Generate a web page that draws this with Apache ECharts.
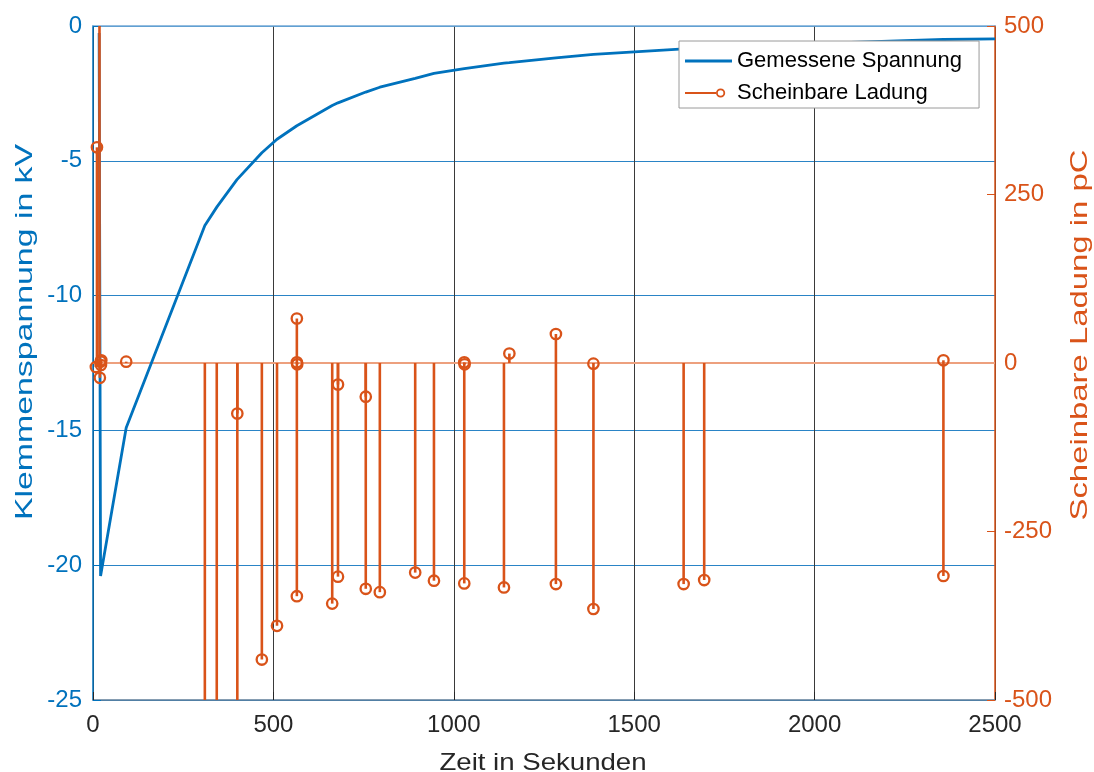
<!DOCTYPE html>
<html>
<head>
<meta charset="utf-8">
<script src="https://cdn.jsdelivr.net/npm/echarts@6/dist/echarts.min.js"></script>
<style>
html,body{margin:0;padding:0;background:#fff;width:100%;height:100%;overflow:hidden;}
#chart{width:100vw;height:100vh;}
</style>
</head>
<body>
<div id="chart"></div>
<script>
// ---- data ----
var voltageTime = [17, 21, 92, 310, 344, 399, 468, 510, 565, 663, 679, 756, 795, 893, 945, 1029, 1139, 1154, 1283, 1387, 1637, 1694, 2357, 2500];
var voltageKV   = [-0.26, -20.4, -14.9, -7.4, -6.7, -5.7, -4.7, -4.2, -3.7, -2.95, -2.85, -2.45, -2.27, -1.94, -1.76, -1.58, -1.38, -1.36, -1.18, -1.05, -0.85, -0.78, -0.5, -0.48];

var chargeTime = [8, 11, 19, 18, 21, 22, 23, 92, 310, 343, 400, 400, 468, 510, 565, 565, 566, 565, 663, 679, 679, 756, 756, 795, 893, 945, 1029, 1030, 1029, 1139, 1154, 1283, 1283, 1387, 1387, 1637, 1694, 2357, 2357];
var chargePC   = [-6, 320, -22, 640, 2, -3, 4, 2, -640, -620, -75, -650, -440, -390, 66, 1, -2, -346, -357, -32, -317, -50, -335, -340, -311, -323, 1, -2, -327, -333, 14, 43, -328, -1, -365, -328, -322, 4, -316];

var xTicks = {min: 0, max: 2500, interval: 500};
var yLeftTicks = {min: -25, max: 0, interval: 5};
var yRightTicks = {min: -500, max: 500, interval: 250};

var seriesNames = ['Gemessene Spannung', 'Scheinbare Ladung'];
var axisTitles = {x: 'Zeit in Sekunden', yLeft: 'Klemmenspannung in kV', yRight: 'Scheinbare Ladung in pC'};
// --------------

var BLUE = '#0072BD', ORANGE = '#D95319';
var FONT = "'Liberation Sans', Arial, Helvetica, sans-serif";

var voltData = voltageTime.map(function (t, i) { return [t, voltageKV[i]]; });
var chargeData = chargeTime.map(function (t, i) { return [t, chargePC[i]]; });

var chart = echarts.init(document.getElementById('chart'), null, {renderer: 'canvas'});

var lineIcon = 'path://M0,0 L0,0 M47,14 L47,14 M0,5.6 H47 V8.4 H0 Z';
var stemIcon = 'path://M0,0 L0,0 M47,14 L47,14 M0,6 H31 V8 H0 Z M31,7 a4.6,4.6 0 1,0 9.2,0 a4.6,4.6 0 1,0 -9.2,0 Z M32.8,7 a2.8,2.8 0 1,1 5.6,0 a2.8,2.8 0 1,1 -5.6,0 Z';

var option = {
  animation: false,
  backgroundColor: '#ffffff',
  textStyle: {fontFamily: FONT},
  grid: {left: 93, right: 99, top: 26, bottom: 72, containLabel: false},
  legend: {
    orient: 'vertical',
    left: 679, top: 41,
    padding: [8, 17, 3, 6],
    itemWidth: 47, itemHeight: 14, itemGap: 8,
    symbolKeepAspect: true,
    backgroundColor: '#ffffff',
    borderColor: '#9a9a9a', borderWidth: 1,
    textStyle: {fontFamily: FONT, fontSize: 22, color: '#000', lineHeight: 24},
    data: [
      {name: seriesNames[0], icon: lineIcon},
      {name: seriesNames[1], icon: stemIcon}
    ]
  },
  graphic: [{
    type: 'text', x: 543, y: 763, scaleX: 1.15,
    style: {text: axisTitles.x, fontFamily: FONT, fontSize: 24, fill: '#262626', align: 'center', verticalAlign: 'middle'}
  }, {
    type: 'text', x: 25, y: 332, rotation: Math.PI / 2, scaleX: 1.41,
    style: {text: axisTitles.yLeft, fontFamily: FONT, fontSize: 24, fill: BLUE, align: 'center', verticalAlign: 'middle'}
  }, {
    type: 'text', x: 1080, y: 335, rotation: Math.PI / 2, scaleX: 1.37,
    style: {text: axisTitles.yRight, fontFamily: FONT, fontSize: 24, fill: ORANGE, align: 'center', verticalAlign: 'middle'}
  }],
  xAxis: [{
    type: 'value', position: 'bottom',
    min: xTicks.min, max: xTicks.max, interval: xTicks.interval,
    axisLine: {show: true, onZero: false, lineStyle: {color: '#5f7d99', width: 1.5}},
    axisTick: {show: true, inside: true, length: 8, lineStyle: {color: '#262626'}},
    axisLabel: {fontFamily: FONT, fontSize: 24, color: '#262626', margin: 13,
      formatter: function (v) { return String(v); }},
    splitLine: {show: true, lineStyle: {color: '#3a3a3a', width: 1}}
  }, {
    type: 'value', position: 'top',
    min: xTicks.min, max: xTicks.max, interval: xTicks.interval,
    axisLine: {show: true, onZero: false, lineStyle: {color: '#74a9d6', width: 1.5}},
    axisTick: {show: false}, axisLabel: {show: false}, splitLine: {show: false}
  }],
  yAxis: [{
    type: 'value', position: 'left',
    min: yLeftTicks.min, max: yLeftTicks.max, interval: yLeftTicks.interval,
    axisLine: {show: true, onZero: false, lineStyle: {color: BLUE, width: 1.5}},
    axisTick: {show: true, inside: true, length: 8, lineStyle: {color: BLUE}},
    axisLabel: {fontFamily: FONT, fontSize: 24, color: BLUE, margin: 11},
    splitLine: {show: true, lineStyle: {color: '#2a84c6', width: 1}}
  }, {
    type: 'value', position: 'right',
    min: yRightTicks.min, max: yRightTicks.max, interval: yRightTicks.interval,
    axisLine: {show: true, onZero: false, lineStyle: {color: ORANGE, width: 1.5}},
    axisTick: {show: true, inside: true, length: 8, lineStyle: {color: ORANGE}},
    axisLabel: {fontFamily: FONT, fontSize: 24, color: ORANGE, margin: 9},
    splitLine: {show: false}
  }],
  series: [{
    name: seriesNames[0],
    type: 'line',
    xAxisIndex: 0, yAxisIndex: 0,
    data: voltData,
    showSymbol: false,
    lineStyle: {color: BLUE, width: 2.8},
    itemStyle: {color: BLUE},
    z: 2
  }, {
    name: seriesNames[1],
    type: 'custom',
    xAxisIndex: 0, yAxisIndex: 1,
    data: chargeData,
    itemStyle: {color: ORANGE},
    z: 3,
    encode: {x: 0, y: 1},
    renderItem: function (params, api) {
      var t = api.value(0), v = api.value(1);
      var vc = Math.max(yRightTicks.min, Math.min(yRightTicks.max, v));
      var p0 = api.coord([t, 0]);
      var p1 = api.coord([t, vc]);
      var children = [{
        type: 'line',
        shape: {x1: p0[0], y1: p0[1], x2: p1[0], y2: p1[1]},
        style: {stroke: ORANGE, lineWidth: 2.6}
      }];
      if (v >= yRightTicks.min && v <= yRightTicks.max) {
        children.push({
          type: 'circle',
          shape: {cx: p1[0], cy: p1[1], r: 5.2},
          style: {stroke: ORANGE, lineWidth: 2.3, fill: null}
        });
      }
      return {type: 'group', children: children};
    },
    markLine: {
      silent: true, symbol: ['none', 'none'],
      label: {show: false},
      lineStyle: {color: '#EDA07E', width: 2, type: 'solid'},
      data: [{yAxis: 0}],
      z: 2
    }
  }]
};
chart.setOption(option);
</script>
</body>
</html>
